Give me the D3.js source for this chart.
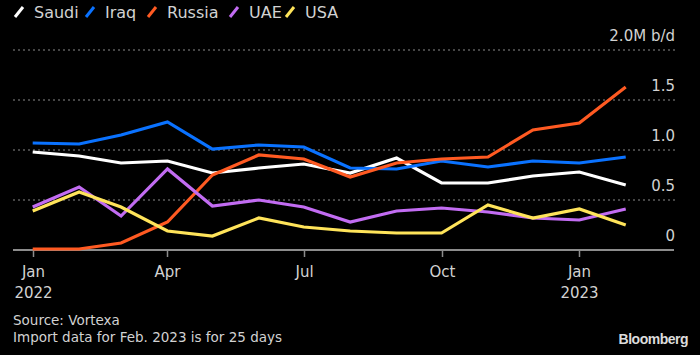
<!DOCTYPE html>
<html><head><meta charset="utf-8">
<script src="https://cdn.jsdelivr.net/npm/d3@7"></script>
<style>
html,body{margin:0;padding:0;background:#000;}
svg{display:block;}
text{font-family:"DejaVu Sans","Liberation Sans",sans-serif;}
</style></head>
<body><svg id="c" width="700" height="355"></svg>
<script>
const months = ["2022-01","2022-02","2022-03","2022-04","2022-05","2022-06","2022-07","2022-08","2022-09","2022-10","2022-11","2022-12","2023-01","2023-02"];
const saudi  = [0.98,0.94,0.87,0.89,0.77,0.82,0.86,0.77,0.92,0.67,0.67,0.74,0.78,0.65];
const iraq   = [1.07,1.06,1.15,1.28,1.01,1.05,1.03,0.82,0.81,0.89,0.83,0.89,0.87,0.93];
const russia = [0.01,0.01,0.07,0.28,0.75,0.95,0.91,0.73,0.87,0.91,0.93,1.20,1.27,1.63];
const uae    = [0.43,0.63,0.34,0.81,0.44,0.50,0.43,0.28,0.39,0.42,0.38,0.32,0.30,0.41];
const usa    = [0.39,0.58,0.43,0.19,0.14,0.32,0.23,0.19,0.17,0.17,0.45,0.32,0.41,0.25];
const seriesNames = ["Saudi","Iraq","Russia","UAE","USA"];
const seriesColors = ["#ffffff","#0a72ff","#ff5a22","#c26cf2","#ffe45a"];
const yTicks = [0,0.5,1.0,1.5,2.0];
const yTickLabels = ["0","0.5","1.0","1.5","2.0M b/d"];
const xTickDates = ["2022-01","2022-04","2022-07","2022-10","2023-01"];
const xTickLabels = [["Jan","2022"],["Apr",""],["Jul",""],["Oct",""],["Jan","2023"]];

const seriesValues = [saudi, iraq, russia, uae, usa];
const parse = d3.utcParse("%Y-%m");
const svg = d3.select("#c");

const x = d3.scaleUtc().domain([parse("2022-01"), parse("2023-01")]).range([32.7, 579.3]);
const y = d3.scaleLinear().domain([0, 2]).range([250, 50]);

// gridlines
svg.append("g").selectAll("line").data(yTicks.filter(v=>v>0)).join("line")
  .attr("x1", 13).attr("x2", 675)
  .attr("y1", d=>y(d)).attr("y2", d=>y(d))
  .attr("stroke", "#8a8a8a").attr("stroke-width", 1).attr("stroke-dasharray", "2,3");

// y labels
svg.append("g").selectAll("text").data(yTicks).join("text")
  .attr("x", 675).attr("y", d=>y(d)-9)
  .attr("text-anchor","end").attr("fill","#d2d2d2").attr("font-size", 15)
  .text((d,i)=>yTickLabels[i]);

// x axis
svg.append("line").attr("x1",13).attr("x2",674).attr("y1",250).attr("y2",250)
  .attr("stroke","#8c8c8c").attr("stroke-width",2);
const xt = svg.append("g").selectAll("g").data(xTickDates).join("g")
  .attr("transform", d=>`translate(${Math.round(x(parse(d)))+0.5},0)`);
xt.append("line").attr("y1",250).attr("y2",257).attr("stroke","#8c8c8c").attr("stroke-width",1.5);
xt.append("text").attr("y",277).attr("text-anchor","middle").attr("fill","#d2d2d2").attr("font-size",15)
  .text((d,i)=>xTickLabels[i][0]);
xt.append("text").attr("y",298).attr("text-anchor","middle").attr("fill","#d2d2d2").attr("font-size",15)
  .text((d,i)=>xTickLabels[i][1]);

// lines
const line = d3.line().x((d,i)=>x(parse(months[i]))).y(d=>y(d));
svg.append("g").selectAll("path").data(seriesValues).join("path")
  .attr("d", d=>line(d)).attr("fill","none")
  .attr("stroke",(d,i)=>seriesColors[i]).attr("stroke-width",3.2)
  .attr("stroke-linejoin","miter").attr("stroke-linecap","butt");

// legend
const legX = [14, 85, 147, 229, 285];
const lg = svg.append("g").selectAll("g").data(seriesNames).join("g")
  .attr("transform",(d,i)=>`translate(${legX[i]},0)`);
lg.append("line").attr("x1",1).attr("y1",17).attr("x2",9).attr("y2",7)
  .attr("stroke",(d,i)=>seriesColors[i]).attr("stroke-width",3);
lg.append("text").attr("x",20).attr("y",18).attr("fill","#d2d2d2").attr("font-size",16).text(d=>d);

// footer
svg.append("text").attr("x",13).attr("y",325).attr("fill","#d2d2d2").attr("font-size",13.5).text("Source: Vortexa");
svg.append("text").attr("x",13).attr("y",342).attr("fill","#d2d2d2").attr("font-size",13.5).text("Import data for Feb. 2023 is for 25 days");
svg.append("text").attr("x",688).attr("y",344).attr("text-anchor","end").attr("fill","#dcdcdc")
  .attr("font-size",14).attr("font-weight","bold").attr("letter-spacing","-0.5")
  .style("font-family","'Liberation Sans',Arial,sans-serif").text("Bloomberg");
</script></body></html>
